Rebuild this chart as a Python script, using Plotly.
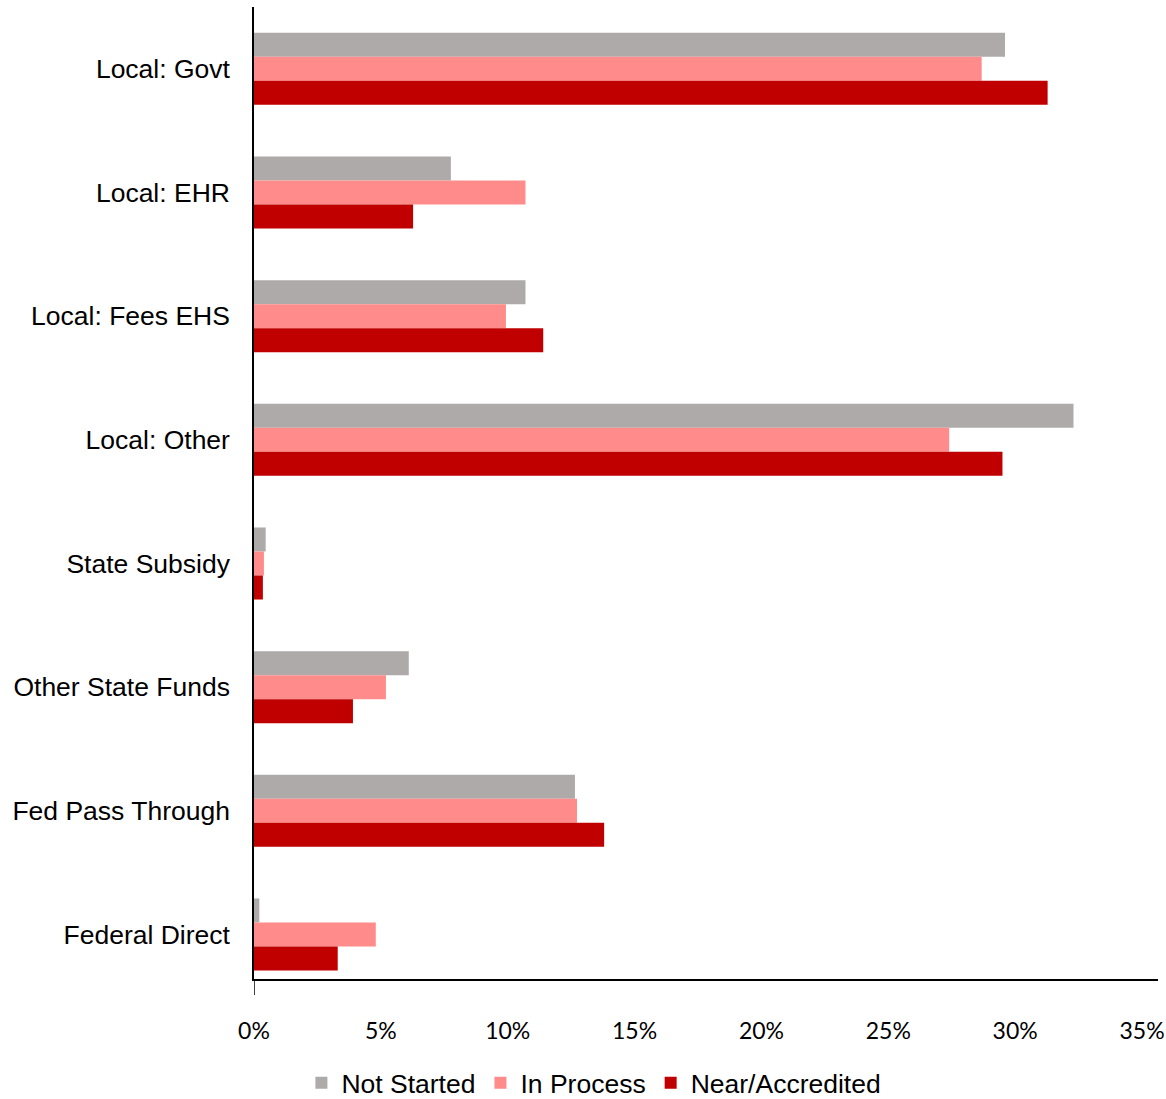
import plotly.graph_objects as go

categories = ["Local: Govt", "Local: EHR", "Local: Fees EHS", "Local: Other",
              "State Subsidy", "Other State Funds", "Fed Pass Through", "Federal Direct"]
not_started = [0.296, 0.0776, 0.107, 0.323, 0.0046, 0.061, 0.1265, 0.0021]
in_process = [0.2868, 0.107, 0.0993, 0.274, 0.0039, 0.052, 0.1273, 0.048]
near_accredited = [0.3128, 0.0627, 0.114, 0.295, 0.0035, 0.039, 0.138, 0.033]
x_ticks = [0, 0.05, 0.10, 0.15, 0.20, 0.25, 0.30, 0.35]
x_tick_labels = ["0%", "5%", "10%", "15%", "20%", "25%", "30%", "35%"]

series = [("Not Started", not_started, "#AEAAAA"),
          ("In Process", in_process, "#FF8B8B"),
          ("Near/Accredited", near_accredited, "#C00000")]

fig = go.Figure()
for name, vals, col in series:
    fig.add_trace(go.Bar(
        y=categories, x=vals, name=name, orientation="h",
        marker=dict(color=col, line=dict(width=0)),
    ))

W, H = 1166, 1099
L, R, T, B = 254, 8, 7, 120

fig.update_layout(
    width=W, height=H,
    margin=dict(l=L, r=R, t=T, b=B, pad=0, autoexpand=False),
    barmode="group", bargap=0.4175, bargroupgap=0,
    plot_bgcolor="white", paper_bgcolor="white",
    font=dict(family="Liberation Sans, Arial, sans-serif", size=26.5, color="black"),
    showlegend=True,
    legend=dict(orientation="h", x=0.376, xanchor="center", y=-0.1070, yanchor="middle",
                font=dict(size=26.5), itemwidth=30, traceorder="normal",
                bgcolor="rgba(0,0,0,0)"),
    xaxis=dict(range=[0, 0.3563], tickvals=x_ticks, ticktext=x_tick_labels,
               showgrid=False, zeroline=False, showline=True, linecolor="black", linewidth=1.5,
               ticks="", ticklabelstandoff=31, automargin=False,
               tickfont=dict(family="Lato, sans-serif", size=23)),
    yaxis=dict(type="category", categoryorder="array", categoryarray=categories,
               range=[7.36, -0.5], showgrid=False, zeroline=False,
               showline=True, linecolor="black", linewidth=1.5,
               ticks="", ticklabelstandoff=17, automargin=False,
               tickfont=dict(family="Liberation Sans, Arial, sans-serif", size=26.5)),
)

# small extension of the vertical axis below the horizontal axis
fig.add_shape(type="line", xref="x", yref="paper", x0=0, x1=0, y0=0, y1=-16 / (H - T - B),
              line=dict(color="black", width=1.5))

fig.write_html("out.html")
